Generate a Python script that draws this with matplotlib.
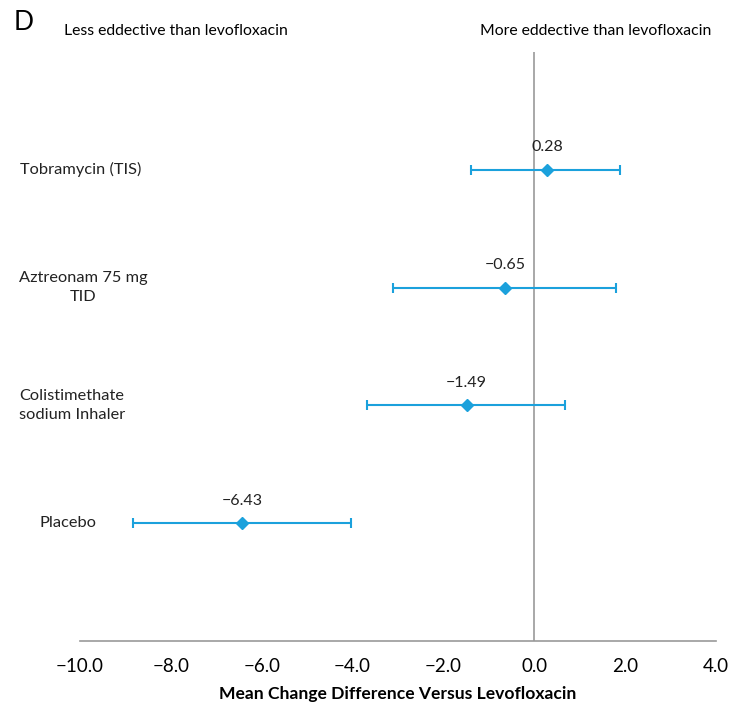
import matplotlib.pyplot as plt
from matplotlib.transforms import blended_transform_factory

plt.rcParams['font.family'] = ['Lato', 'DejaVu Sans']

treatments = ['Tobramycin (TIS)', 'Aztreonam 75 mg\nTID', 'Colistimethate\nsodium Inhaler', 'Placebo']
mean_diff = [0.28, -0.65, -1.49, -6.43]
ci_low = [-1.40, -3.11, -3.68, -8.84]
ci_high = [1.89, 1.80, 0.68, -4.04]
value_labels = ['0.28', '\u22120.65', '\u22121.49', '\u22126.43']
xticks = [-10, -8, -6, -4, -2, 0, 2, 4]
xtick_labels = ['\u221210.0', '\u22128.0', '\u22126.0', '\u22124.0', '\u22122.0', '0.0', '2.0', '4.0']
label_x = [81, 83, 72, 68]  # label centres in figure pixels

ypos = [4, 3, 2, 1]
blue = '#1ba1dc'

fig = plt.figure(figsize=(7.33, 7.04), dpi=100)
ax = fig.add_axes([80/733, 1-641/704, 636/733, 589/704])

err = [[m - l for m, l in zip(mean_diff, ci_low)], [h - m for m, h in zip(mean_diff, ci_high)]]
ax.errorbar(mean_diff, ypos, xerr=err, fmt='D', color=blue, ms=6.5, elinewidth=1.5,
            capsize=3.5, capthick=1.5, zorder=3)
ax.axvline(0, color='#999999', lw=1.2, zorder=1)

for x, y, t in zip(mean_diff, ypos, value_labels):
    ax.text(x, y + 0.13, t, ha='center', va='bottom', fontsize=11.5, color='#222222')

tr = blended_transform_factory(fig.transFigure, ax.transData)
for lx, y, t in zip(label_x, ypos, treatments):
    ax.text(lx/733, y, t, transform=tr, ha='center', va='center', fontsize=11.8,
            color='#222222', linespacing=1.45)

ax.set_xlim(-10, 4)
ax.set_ylim(0, 5)
ax.set_xticks(xticks)
ax.set_xticklabels(xtick_labels, fontsize=13.5)
ax.tick_params(axis='x', length=0, pad=12)
ax.set_yticks([])
for s in ['top', 'right', 'left']:
    ax.spines[s].set_visible(False)
ax.spines['bottom'].set_color('#999999')
ax.spines['bottom'].set_linewidth(1.2)
ax.set_xlabel('Mean Change Difference Versus Levofloxacin', fontsize=12.6,
              fontweight='bold', labelpad=8)

fig.text(14/733, 1-22/704, 'D', fontsize=19, va='center', ha='left')
fig.text(64/733, 1-31/704, 'Less eddective than levofloxacin', fontsize=11.3, va='center', ha='left')
fig.text(711/733, 1-31/704, 'More eddective than levofloxacin', fontsize=11.3, va='center', ha='right')

fig.savefig('out.png', dpi=100)
